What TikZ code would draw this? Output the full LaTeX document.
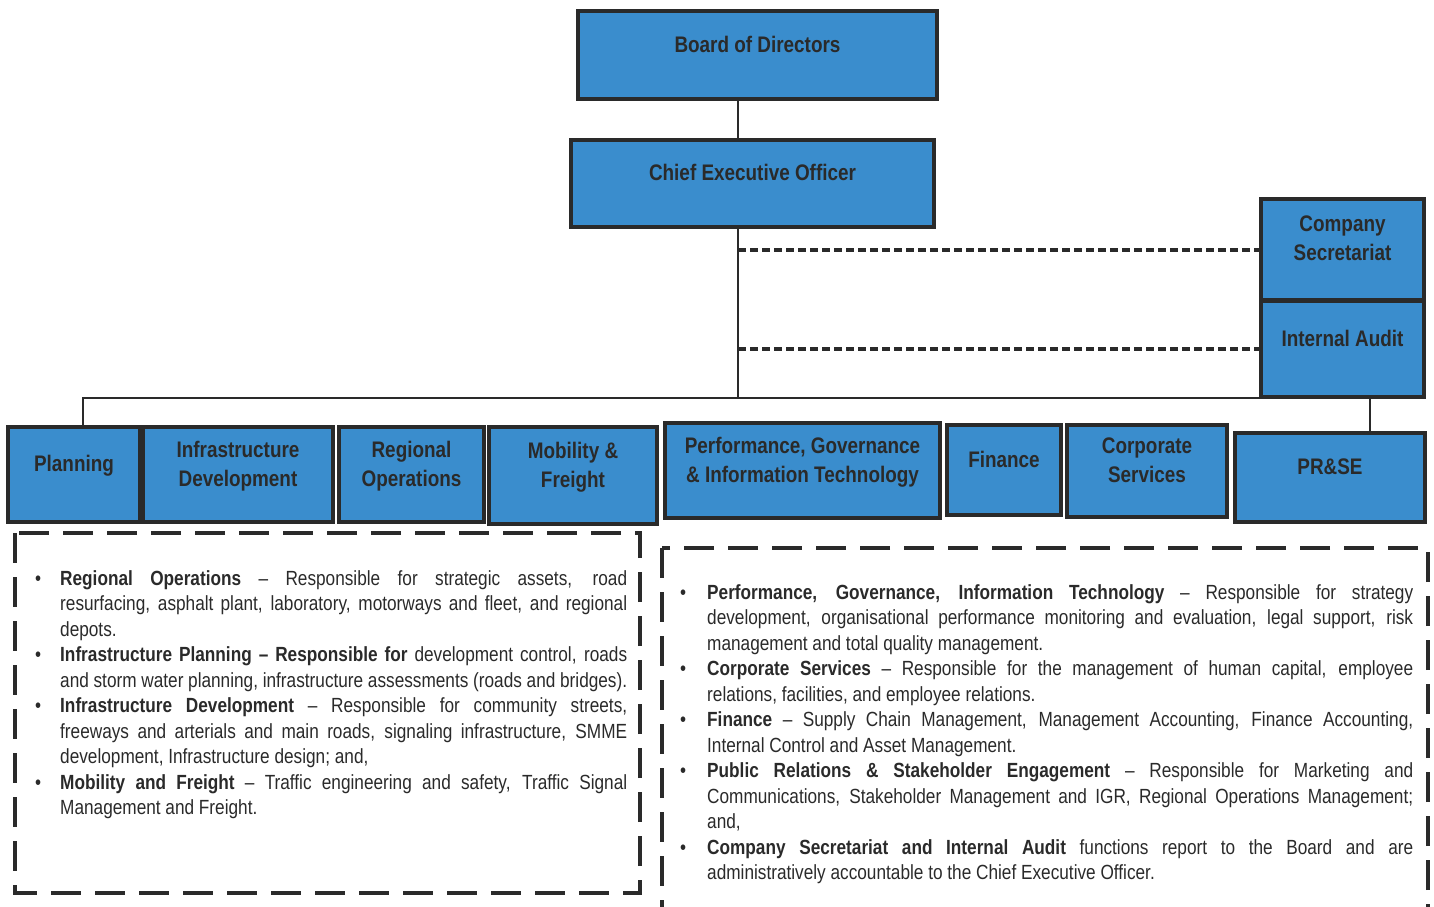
\documentclass[tikz,border=0pt]{standalone}
\usepackage{fontspec}
\setmainfont{Liberation Sans}[FakeStretch=0.84]
\usetikzlibrary{positioning}

\definecolor{orgblue}{RGB}{58,141,205}
\definecolor{inkgray}{RGB}{42,42,42}

\tikzset{
  orgbox/.style={draw=inkgray, fill=orgblue, line width=3.5pt, inner sep=2pt,
    align=center, text=inkgray, text depth=22pt,
    font=\fontsize{22.5}{29}\selectfont\bfseries},
  orgline/.style={draw=inkgray, line width=2.5pt},
  reportline/.style={draw=inkgray, line width=4pt, dash pattern=on 8pt off 4pt},
  noteframe/.style={draw=inkgray, line width=3.5pt, dash pattern=on 30pt off 14pt},
  notetext/.style={anchor=north west, align=justify, inner sep=0pt, text=inkgray,
    font=\fontsize{20.5}{25.5}\selectfont}
}

% bullet with hanging indent
\newcommand{\noteitem}[2][25pt]{\noindent\hangindent=#1\hangafter=1%
  \makebox[#1][l]{\textbullet}#2\par}

\begin{document}
\begin{tikzpicture}[x=1pt, y=-1pt]
\useasboundingbox (0,0) rectangle (1434,906);
\clip (0,0) rectangle (1434,906);

% top of the chart
\node[orgbox, minimum width=359, minimum height=88] (board) at (757.5,55) {Board of Directors};
\node[orgbox, minimum width=363, minimum height=87] (ceo) at (752.5,183.5) {Chief Executive Officer};
\node[orgbox, minimum width=163, minimum height=101] (cosec) at (1342.5,249.5) {Company\\Secretariat};
\node[orgbox, minimum width=163, minimum height=96] (audit) at (1342.5,349) {Internal Audit};

% divisions
\node[orgbox, minimum width=132, minimum height=95] (planning) at (74,474.5) {Planning};
\node[orgbox, minimum width=190, minimum height=95] (infradev) at (238,474.5) {Infrastructure\\Development};
\node[orgbox, minimum width=145, minimum height=95] (regops) at (411.5,474.5) {Regional\\Operations};
\node[orgbox, minimum width=168, minimum height=97] (mobility) at (573,475.5) {Mobility \&\\Freight};
\node[orgbox, minimum width=275, minimum height=95] (perf) at (802.5,470.5) {Performance, Governance\\\& Information Technology};
\node[orgbox, minimum width=114, minimum height=90] (finance) at (1004,470) {Finance};
\node[orgbox, minimum width=160, minimum height=92] (corpserv) at (1147,471) {Corporate\\Services};
\node[orgbox, minimum width=190, minimum height=89] (prse) at (1330,477.5) {PR\&SE};

% connectors
\coordinate (trunk) at (738,398);
\coordinate (busleft) at (83,398);
\coordinate (busright) at (1370,398);
\draw[orgline] (board.south -| trunk) -- (ceo.north -| trunk);
\draw[orgline] (ceo.south -| trunk) -- (trunk);
\draw[orgline] (busleft |- planning.north) -- (busleft) -- (busright) -- (busright |- prse.north);
\draw[reportline] (trunk |- cosec.west) -- (cosec.west);
\draw[reportline] (trunk |- audit.west) -- (audit.west);

% notes
\draw[noteframe] (15,533) rectangle (640,893);
\draw[noteframe] (662,548) rectangle (1428,930);

\node[notetext, text width=592] (leftnotes) at (35,570) {%
\noteitem{\textbf{Regional Operations} -- Responsible for strategic assets, road\linebreak resurfacing, asphalt plant, laboratory, motorways and fleet, and regional\linebreak depots.}
\noteitem{\textbf{Infrastructure Planning -- Responsible for} development control, roads\linebreak and storm water planning, infrastructure assessments (roads and bridges).}
\noteitem{\textbf{Infrastructure Development} -- Responsible for community streets,\linebreak freeways and arterials and main roads, signaling infrastructure, SMME\linebreak development, Infrastructure design; and,}
\noteitem{\textbf{Mobility and Freight} -- Traffic engineering and safety, Traffic Signal\linebreak Management and Freight.}};

\node[notetext, text width=733] (rightnotes) at (680,584) {%
\noteitem[27pt]{\textbf{Performance, Governance, Information Technology} -- Responsible for strategy\linebreak development, organisational performance monitoring and evaluation, legal support, risk\linebreak management and total quality management.}
\noteitem[27pt]{\textbf{Corporate Services} -- Responsible for the management of human capital, employee\linebreak relations, facilities, and employee relations.}
\noteitem[27pt]{\textbf{Finance} -- Supply Chain Management, Management Accounting, Finance Accounting,\linebreak Internal Control and Asset Management.}
\noteitem[27pt]{\textbf{Public Relations \& Stakeholder Engagement} -- Responsible for Marketing and\linebreak Communications, Stakeholder Management and IGR, Regional Operations Management;\linebreak and,}
\noteitem[27pt]{\textbf{Company Secretariat and Internal Audit} functions report to the Board and are\linebreak administratively accountable to the Chief Executive Officer.}};
\end{tikzpicture}
\end{document}
